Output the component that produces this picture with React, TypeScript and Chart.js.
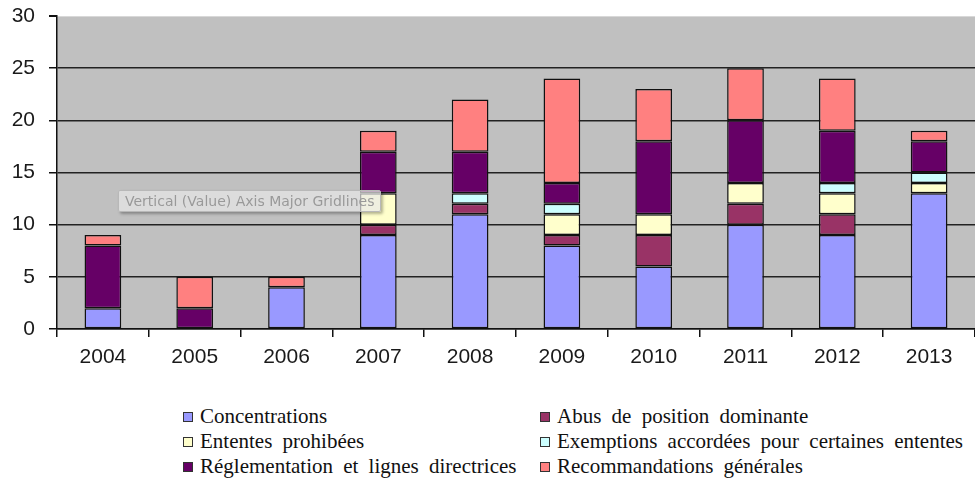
import React, { useEffect, useRef } from "react";
import { Chart, registerables } from "chart.js";

Chart.register(...registerables);

const years = ["2004", "2005", "2006", "2007", "2008", "2009", "2010", "2011", "2012", "2013"];
const yTicks = [0, 5, 10, 15, 20, 25, 30];

const concentrations = [2, null, 4, 9, 11, 8, 6, 10, 9, 13];
const abus = [null, null, null, 1, 1, 1, 3, 2, 2, null];
const ententes = [null, null, null, 3, null, 2, 2, 2, 2, 1];
const exemptions = [null, null, null, null, 1, 1, null, null, 1, 1];
const reglementation = [6, 2, null, 4, 4, 2, 7, 6, 5, 3];
const recommandations = [1, 3, 1, 2, 5, 10, 5, 5, 5, 1];

const seriesNames = [
  "Concentrations",
  "Abus de position dominante",
  "Ententes prohibées",
  "Exemptions accordées pour certaines ententes",
  "Réglementation et lignes directrices",
  "Recommandations générales",
];
const seriesColors = ["#9999FF", "#993366", "#FFFFCC", "#CCFFFF", "#660066", "#FF8080"];
const seriesData = [concentrations, abus, ententes, exemptions, reglementation, recommandations];

export default function App() {
  const ref = useRef<HTMLCanvasElement | null>(null);

  useEffect(() => {
    document.body.style.margin = "0";
    const ctx = ref.current!;
    const chart = new Chart(ctx, {
      type: "bar",
      data: {
        labels: years,
        datasets: seriesData.map((d, i) => ({
          label: seriesNames[i],
          data: d,
          backgroundColor: seriesColors[i],
          borderColor: "#111",
          borderWidth: 1.5,
          borderSkipped: false,
          barPercentage: 0.4,
          categoryPercentage: 1,
        })),
      },
      options: {
        animation: false,
        responsive: false,
        maintainAspectRatio: false,
        layout: { padding: { top: 16, right: 0, left: 0, bottom: 0 } },
        plugins: {
          legend: { display: false },
          tooltip: { enabled: false },
        },
        scales: {
          x: {
            stacked: true,
            grid: {
              drawOnChartArea: false,
              drawTicks: true,
              tickLength: 8,
              color: "#111",
              lineWidth: 1.5,
              offset: true,
            },
            border: { color: "#111", width: 1.5 },
            ticks: {
              color: "#1a1a1a",
              font: { family: "Liberation Sans, Arial", size: 21 },
              padding: 8,
            },
            afterFit: (s: any) => {
              s.height = 41;
              s.paddingLeft = 0;
              s.paddingRight = 0;
            },
          },
          y: {
            stacked: true,
            min: 0,
            max: 30,
            afterBuildTicks: (s: any) => {
              s.ticks = yTicks.map((v) => ({ value: v }));
            },
            grid: {
              color: (c: any) => (c.tick && c.tick.value === 30 ? "rgba(0,0,0,0)" : "#222"),
              tickColor: "#111",
              tickLength: 8,
              lineWidth: 1.5,
            },
            border: { color: "#111", width: 1.5 },
            ticks: {
              color: "#1a1a1a",
              font: { family: "Liberation Sans, Arial", size: 21 },
              padding: 14,
            },
            afterFit: (s: any) => {
              s.width = 57;
              s.paddingTop = 0;
              s.paddingBottom = 0;
            },
          },
        },
      },
      plugins: [
        {
          id: "plotBg",
          beforeDraw: (c: any) => {
            const a = c.chartArea;
            const g = c.ctx;
            g.save();
            g.fillStyle = "#C0C0C0";
            g.fillRect(a.left, a.top, a.right - a.left, a.bottom - a.top);
            g.strokeStyle = "#d8d8d8";
            g.lineWidth = 1;
            g.beginPath();
            g.moveTo(a.left, a.top + 0.5);
            g.lineTo(a.right, a.top + 0.5);
            g.stroke();
            g.beginPath();
            g.strokeStyle = "#111";
            g.moveTo(a.left - 8, a.top + 0.5);
            g.lineTo(a.left, a.top + 0.5);
            g.stroke();
            g.restore();
          },
        },
      ],
    });
    return () => chart.destroy();
  }, []);

  const legendItem = (i: number) => (
    <div key={i} style={{ display: "flex", alignItems: "center", height: 25 }}>
      <span
        style={{
          display: "inline-block",
          width: 8,
          height: 8,
          background: seriesColors[i],
          border: "1px solid #333",
          marginRight: 7,
          flex: "none",
        }}
      />
      <span style={{ whiteSpace: "nowrap" }}>{seriesNames[i]}</span>
    </div>
  );

  return (
    <div style={{ position: "relative", width: 975, height: 479, background: "#fff", overflow: "hidden" }}>
      <canvas ref={ref} width={975} height={370} style={{ position: "absolute", left: 0, top: 0 }} />
      <div
        style={{
          position: "absolute",
          left: 118,
          top: 190,
          padding: "2px 6px",
          background: "rgba(232,232,232,0.7)",
          border: "1px solid #b8b8b8",
          borderRadius: 2,
          boxShadow: "2px 2px 3px rgba(0,0,0,0.3)",
          color: "#999",
          font: "14px 'DejaVu Sans', sans-serif",
          whiteSpace: "nowrap",
        }}
      >
        Vertical (Value) Axis Major Gridlines
      </div>
      <div
        style={{
          position: "absolute",
          left: 183,
          top: 404,
          display: "grid",
          gridTemplateColumns: "357px auto",
          font: "21px 'Liberation Serif', 'Times New Roman', serif",
          color: "#111",
          wordSpacing: 5,
        }}
      >
        {[0, 1, 2, 3, 4, 5].map((i) => legendItem(i))}
      </div>
    </div>
  );
}
